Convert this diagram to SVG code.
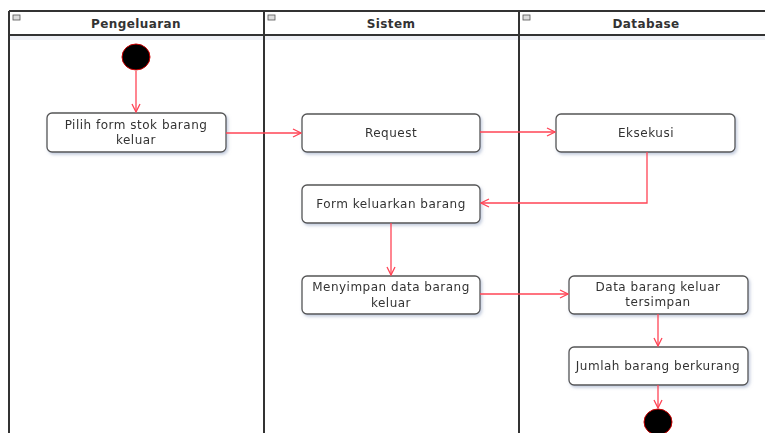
<svg xmlns="http://www.w3.org/2000/svg" width="765" height="433" viewBox="0 0 765 433">
<style>
.lane{fill:none;stroke:#333;stroke-width:2}
.hdr{font-family:"DejaVu Sans","Liberation Sans",sans-serif;font-size:12px;font-weight:bold;fill:#333;text-anchor:middle;letter-spacing:0.4px}
.box{fill:#fff;stroke:#555;stroke-width:1.3}
.t{font-family:"DejaVu Sans","Liberation Sans",sans-serif;font-size:12px;fill:#333;text-anchor:middle;letter-spacing:0.5px}
.c{fill:none;stroke:#ff4455;stroke-width:1.3}
.ico{fill:#ddd;stroke:#555;stroke-width:0.8}
</style>
<defs>
<marker id="ah" markerWidth="10" markerHeight="10" refX="9" refY="5" orient="auto" markerUnits="userSpaceOnUse">
<path d="M1,1 L9,5 L1,9" fill="none" stroke="#ff4455" stroke-width="1.3"/>
</marker>
<filter id="sh" x="-10%" y="-10%" width="125%" height="140%">
<feDropShadow dx="1.5" dy="2" stdDeviation="1.5" flood-color="#8899bb" flood-opacity="0.5"/>
</filter>
</defs>
<rect width="765" height="433" fill="#fff"/>
<g id="lanes">
<line x1="9" y1="11" x2="765" y2="11" class="lane" stroke-width="1.5"/>
<line x1="9" y1="35" x2="765" y2="35" class="lane" stroke-width="1.5"/>
<rect x="9" y="36" width="756" height="4" fill="#e4e8f0" opacity="0.6"/>
<line x1="9" y1="11" x2="9" y2="433" class="lane"/>
<line x1="264" y1="11" x2="264" y2="433" class="lane"/>
<line x1="519" y1="11" x2="519" y2="433" class="lane"/>
<rect x="13" y="15" width="7" height="5" class="ico"/>
<rect x="268" y="15" width="7" height="5" class="ico"/>
<rect x="523" y="15" width="7" height="5" class="ico"/>
<text x="136" y="28" class="hdr">Pengeluaran</text>
<text x="391" y="28" class="hdr">Sistem</text>
<text x="646" y="28" class="hdr">Database</text>
</g>
<g id="start"><ellipse cx="136" cy="57" rx="14" ry="13" fill="#000" stroke="#c00" stroke-width="1"/></g>
<g id="n1" filter="url(#sh)"><rect x="47" y="113" width="179" height="39" rx="5" class="box"/>
<text x="136" y="129" class="t">Pilih form stok barang</text><text x="136" y="144" class="t">keluar</text></g>
<g id="n2" filter="url(#sh)"><rect x="302" y="114" width="178" height="38" rx="5" class="box"/>
<text x="391" y="137" class="t">Request</text></g>
<g id="n3" filter="url(#sh)"><rect x="556" y="114" width="179" height="38" rx="5" class="box"/>
<text x="646" y="137" class="t">Eksekusi</text></g>
<g id="n4" filter="url(#sh)"><rect x="302" y="185" width="178" height="38" rx="5" class="box"/>
<text x="391" y="208" class="t">Form keluarkan barang</text></g>
<g id="n5" filter="url(#sh)"><rect x="302" y="276" width="178" height="38" rx="5" class="box"/>
<text x="391" y="291" class="t">Menyimpan data barang</text><text x="391" y="307" class="t">keluar</text></g>
<g id="n6" filter="url(#sh)"><rect x="569" y="276" width="179" height="38" rx="5" class="box"/>
<text x="658" y="291" class="t">Data barang keluar</text><text x="658" y="306" class="t">tersimpan</text></g>
<g id="n7" filter="url(#sh)"><rect x="569" y="347" width="179" height="38" rx="5" class="box"/>
<text x="658" y="370" class="t">Jumlah barang berkurang</text></g>
<g id="end"><ellipse cx="658" cy="422" rx="14" ry="13" fill="#000" stroke="#c00" stroke-width="1"/></g>
<g id="connectors">
<line x1="136" y1="71" x2="136" y2="112" class="c" marker-end="url(#ah)"/>
<line x1="226" y1="133" x2="301" y2="133" class="c" marker-end="url(#ah)"/>
<line x1="480" y1="132" x2="555" y2="132" class="c" marker-end="url(#ah)"/>
<polyline points="647,152 647,203 481,203" class="c" marker-end="url(#ah)"/>
<line x1="391" y1="223" x2="391" y2="275" class="c" marker-end="url(#ah)"/>
<line x1="480" y1="294" x2="568" y2="294" class="c" marker-end="url(#ah)"/>
<line x1="658" y1="314" x2="658" y2="346" class="c" marker-end="url(#ah)"/>
<line x1="658" y1="385" x2="658" y2="408" class="c" marker-end="url(#ah)"/>
</g>
</svg>
